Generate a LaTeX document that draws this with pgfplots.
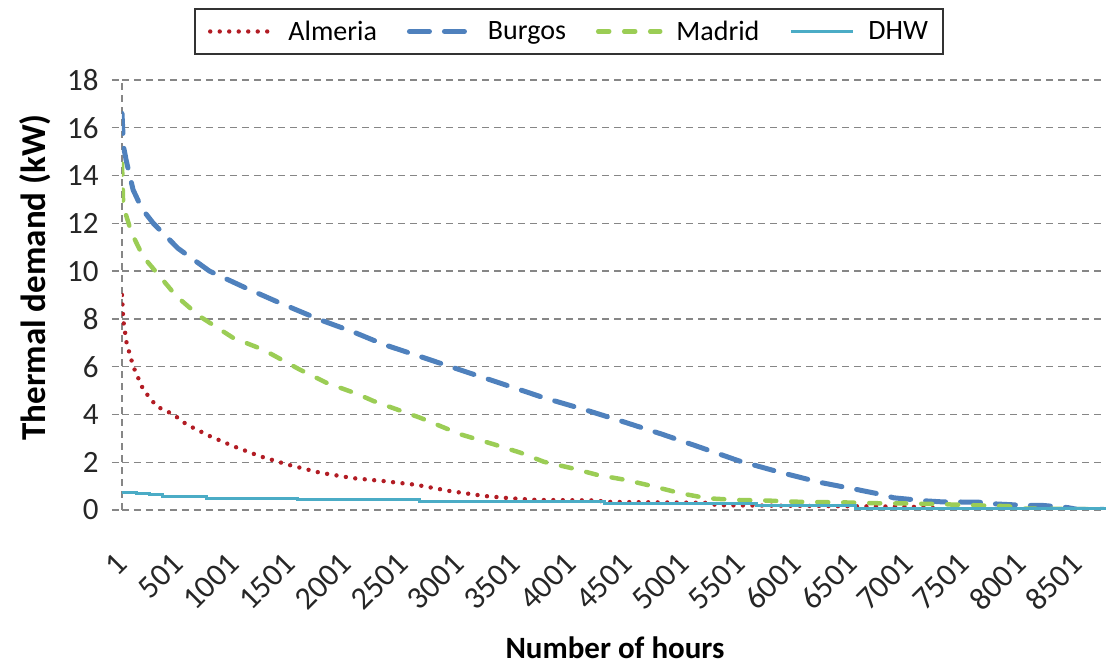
\documentclass[border=0pt]{standalone}
\usepackage{fontspec}
\setmainfont{Carlito}
\usepackage{pgfplots}
\pgfplotsset{compat=1.18}

\definecolor{almeria}{RGB}{178,28,36}
\definecolor{burgos}{RGB}{79,129,189}
\definecolor{madrid}{RGB}{155,205,85}
\definecolor{dhw}{RGB}{75,172,198}
\definecolor{gridgray}{RGB}{134,134,134}

\begin{document}
\begin{tikzpicture}
\begin{axis}[
  name=ax,
  scale only axis,
  width=984pt, height=430pt,
  xmin=1, xmax=8760,
  ymin=0, ymax=18,
  xtick={1,501,...,8501},
  ytick={0,2,...,18},
  axis lines*=left,
  axis line style={gridgray, line width=1.3pt, dash pattern=on 7pt off 5pt},
  ymajorgrids,
  grid style={gridgray, line width=1.3pt, dash pattern=on 7pt off 5pt},
  tick align=outside,
  major tick length=10pt,
  xtick style={draw=none},
  ytick style={gridgray, line width=1.3pt, dash pattern=on 7pt off 5pt},
  /pgf/number format/assume math mode=true,
  /pgf/number format/1000 sep={},
  ticklabel style={text=black!85},
  xticklabel style={font=\fontsize{32}{37}\selectfont, yshift=-36pt, xshift=2pt, rotate=45, anchor=east},
  yticklabel style={font=\fontsize{31}{36}\selectfont, xshift=-10pt},
  xlabel={\textbf{Number of hours}},
  ylabel={\textbf{Thermal demand (kW)}},
  xlabel style={font=\fontsize{31}{37}\selectfont, at={(axis description cs:0.501,-0.321)}, anchor=center},
  ylabel style={font=\fontsize{35}{41}\selectfont, at={(axis description cs:-0.0884,0.541)}, anchor=center},
  legend columns=4,
  legend style={
    at={(axis description cs:0.4543,1.1128)}, anchor=center,
    draw=black!80, line width=1.3pt,
    font=\fontsize{28}{34}\selectfont,
    inner xsep=13pt, inner ysep=10pt,
    cells={anchor=west},
    /tikz/every odd column/.append style={column sep=12pt},
    /tikz/every even column/.append style={column sep=28pt},
  },
  legend image code/.code={\draw[#1] (0pt,0pt) -- (62pt,0pt);},
]
\addplot[almeria, line width=4.4pt, line cap=round, dash pattern=on 0pt off 9.5pt]
table {
1 9.0
12 7.96
42 6.99
101 6.01
190 5.04
309 4.34
458 4.0
576 3.58
784 3.09
992 2.67
1230 2.25
1468 1.91
1765 1.56
2062 1.33
2329 1.21
2626 1.05
2923 0.79
3220 0.59
3458 0.49
3696 0.42
4230 0.40
4300 0.34
5200 0.30
5300 0.20
6400 0.16
7000 0.14
7200 0.10
7300 0.02
8760 0.02
};
\addlegendentry{Almeria}
\addplot[burgos, line width=5pt, line cap=round, line join=round, dash pattern=on 20pt off 15pt]
table {
1 16.6
15 15.2
40 14.6
100 13.4
180 12.6
280 12.0
500 10.95
780 10.0
1110 9.28
1410 8.66
1765 7.96
2062 7.45
2330 6.93
2690 6.37
3040 5.82
3400 5.26
3755 4.70
4120 4.20
4440 3.73
4810 3.17
5150 2.62
5490 2.06
5865 1.57
6220 1.15
6550 0.85
6760 0.65
6870 0.51
7160 0.38
7300 0.34
7620 0.33
7750 0.26
8050 0.19
8200 0.19
8420 0.10
8500 0.03
8760 0.02
};
\addlegendentry{Burgos}
\addplot[madrid, line width=4.5pt, line cap=round, line join=round, dash pattern=on 11pt off 15pt]
table {
1 14.5
12 12.7
40 12.3
86 11.6
190 10.6
339 9.77
487 8.94
695 8.1
992 7.2
1259 6.71
1586 5.87
1824 5.32
2100 4.85
2240 4.56
2656 3.86
3012 3.17
3310 2.75
3547 2.40
3755 2.02
4023 1.73
4231 1.47
4483 1.26
4721 1.0
4973 0.7
5211 0.49
5480 0.42
5710 0.40
6043 0.34
6400 0.32
6750 0.28
7040 0.27
7310 0.24
7640 0.19
7890 0.16
8000 0.06
8760 0.03
};
\addlegendentry{Madrid}
\addplot[dhw, line width=3pt, const plot]
table {
1 0.75
130 0.70
250 0.65
365 0.56
755 0.49
1560 0.42
2650 0.36
4300 0.28
5645 0.20
6530 0.06
8760 0.06
};
\addlegendentry{DHW}
\end{axis}
\pgfresetboundingbox
\path[use as bounding box] ([xshift=-122pt,yshift=-155pt]ax.south west) rectangle ([yshift=80pt]ax.north east);
\end{tikzpicture}
\end{document}
